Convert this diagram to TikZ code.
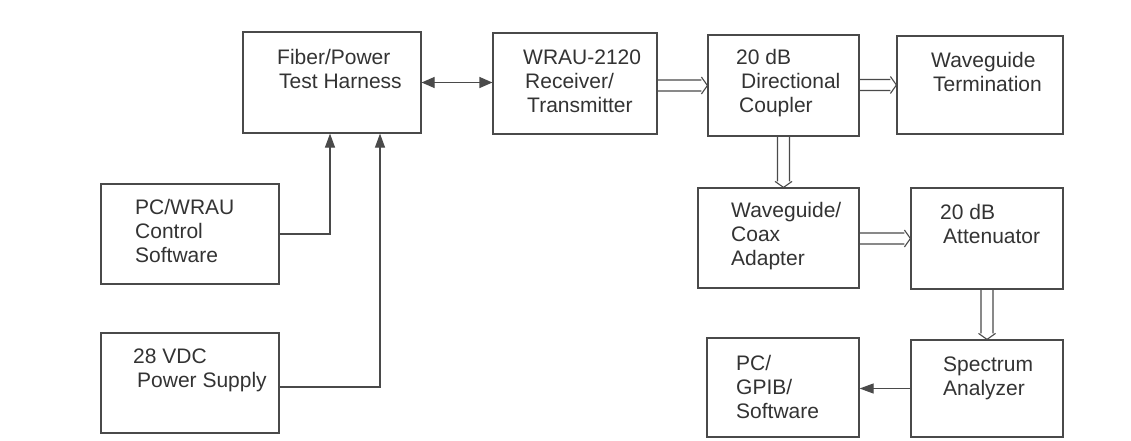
\documentclass[tikz,border=0pt]{standalone}
\usepackage{fontspec}
\setmainfont{Liberation Sans}
\usetikzlibrary{arrows.meta,calc}
\definecolor{edge}{HTML}{4A4A4A}
\definecolor{ink}{HTML}{333333}
\tikzset{
  box/.style={draw=edge, line width=1.2pt, inner sep=0pt, rectangle},
  % labels are anchored at the baseline of their last line
  lbl/.style={anchor=base west, inner sep=0pt, align=left, text=ink,
              font=\fontsize{21}{24}\selectfont},
  sig/.style={draw=edge, line width=1.2pt},
  head/.style={Triangle[length=14pt,width=10pt]},
  tip/.style={-{Triangle[length=14pt,width=10pt]}},
  wg/.style={draw=edge, line width=1.1pt, line join=miter},
}
% horizontal waveguide run: two parallel lines ending in an open head
\newcommand\wgH[2]{%
  \draw[wg] let \p1=(#1.east), \p2=(#2.west) in
    (\x1,\y2+5.5pt) -- (\x2-6pt,\y2+5.5pt)
    (\x1,\y2-5.5pt) -- (\x2-6pt,\y2-5.5pt)
    (\x2-6pt,\y2+8.5pt) -- (\x2,\y2) -- (\x2-6pt,\y2-8.5pt);}
% vertical waveguide run, downwards
\newcommand\wgV[2]{%
  \draw[wg] let \p1=(#1.south), \p2=(#2.north) in
    (\x1+6pt,\y1) -- (\x1+6pt,\y2+6pt)
    (\x1-6pt,\y1) -- (\x1-6pt,\y2+6pt)
    (\x1+8.5pt,\y2+6pt) -- (\x1,\y2) -- (\x1-8.5pt,\y2+6pt);}
\begin{document}
\begin{tikzpicture}[x=1pt,y=-1pt]
\useasboundingbox[fill=white] (0,0) rectangle (1131,440);

% equipment blocks
\node[box, minimum width=178pt, minimum height=101pt] (harness) at (332,82.5) {};
\node[box, minimum width=164pt, minimum height=101pt] (wrau)    at (575,83.5) {};
\node[box, minimum width=151pt, minimum height=101pt] (coupler) at (783.5,85.5) {};
\node[box, minimum width=166pt, minimum height=98pt]  (term)    at (980,85) {};
\node[box, minimum width=161pt, minimum height=100pt] (adapter) at (778.5,238) {};
\node[box, minimum width=152pt, minimum height=101pt] (atten)   at (987,238.5) {};
\node[box, minimum width=152pt, minimum height=99pt]  (gpib)    at (783,387.5) {};
\node[box, minimum width=152pt, minimum height=97pt]  (spec)    at (987,388.5) {};
\node[box, minimum width=178pt, minimum height=100pt] (pcw)     at (190,234) {};
\node[box, minimum width=178pt, minimum height=100pt] (psu)     at (190,383) {};

% block labels
\node[lbl] (harness-t) at (277,88)  {Fiber/Power\\\hspace{2pt}Test Harness};
\node[lbl] (wrau-t)    at (523,112) {WRAU-2120\\\hspace{2pt}Receiver/\\\hspace{4pt}Transmitter};
\node[lbl] (coupler-t) at (736,112) {20 dB\\\hspace{5pt}Directional\\\hspace{3pt}Coupler};
\node[lbl] (term-t)    at (931,91)  {Waveguide\\\hspace{2pt}Termination};
\node[lbl] (adapter-t) at (731,265) {Waveguide/\\Coax\\Adapter};
\node[lbl] (atten-t)   at (940,243) {20 dB\\\hspace{3pt}Attenuator};
\node[lbl] (spec-t)    at (943,395) {Spectrum\\Analyzer};
\node[lbl] (gpib-t)    at (736,418) {PC/\\GPIB/\\Software};
\node[lbl] (pcw-t)     at (135,262) {PC/WRAU\\Control\\Software};
\node[lbl] (psu-t)     at (133,387) {28 VDC\\\hspace{4pt}Power Supply};

% control and power connections
\draw[sig, {Triangle[length=13pt,width=11pt]}-{Triangle[length=13pt,width=11pt]}]
  (harness.east) -- (harness.east -| wrau.west);
\draw[sig, tip] (pcw.east) -| ([xshift=-2pt]harness.south);
\draw[sig, tip] ([yshift=-4pt]psu.east) -| ([xshift=48pt]harness.south);
\draw[sig, tip] (spec.west) -- (spec.west -| gpib.east);

% waveguide path
\wgH{wrau}{coupler}
\wgH{coupler}{term}
\wgV{coupler}{adapter}
\wgH{adapter}{atten}
\wgV{atten}{spec}
\end{tikzpicture}
\end{document}
